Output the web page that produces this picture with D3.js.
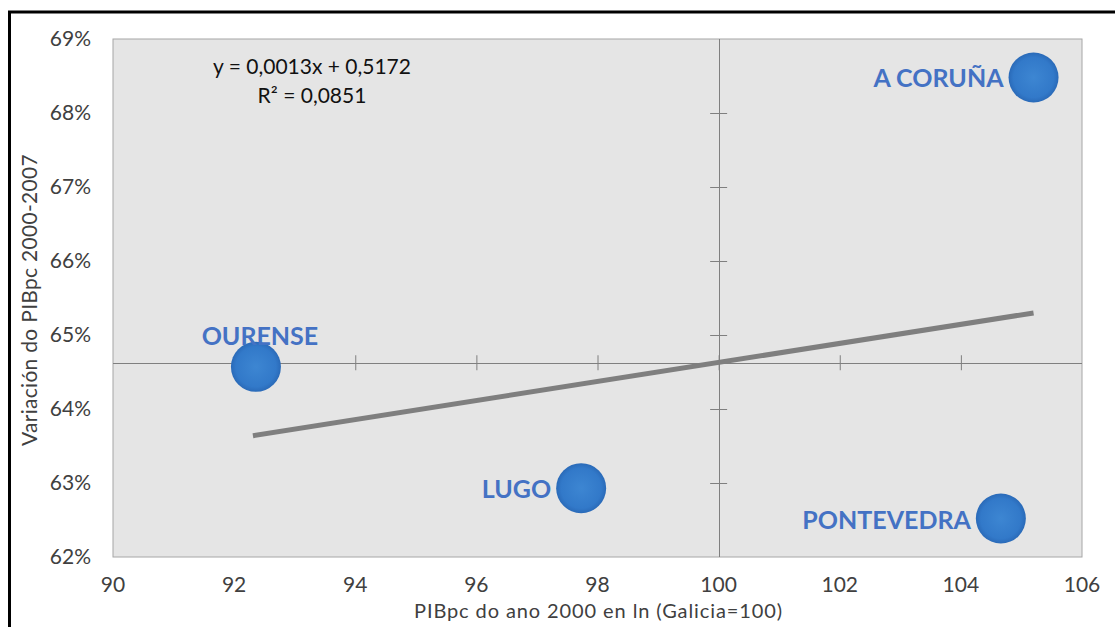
<!DOCTYPE html>
<html>
<head>
<meta charset="utf-8">
<script src="https://cdn.jsdelivr.net/npm/d3@7"></script>
<style>
  body { margin: 0; background: #fff; }
  text { font-family: Lato, "Open Sans", sans-serif; }
</style>
</head>
<body>
<div id="chart"></div>
<script>
// provinces, x = PIBpc 2000 (Galicia=100), y = variation 2000-2007
var provinces = ['OURENSE', 'LUGO', 'PONTEVEDRA', 'A CORUÑA'];
var pib2000 = [92.36, 97.73, 104.66, 105.2];
var variation = [0.6457, 0.6293, 0.6252, 0.6848];
// where each label sits relative to its bubble
var labelSide = ['top', 'left', 'left', 'left'];

var xTicks = [90, 92, 94, 96, 98, 100, 102, 104, 106];
var yTicks = [0.62, 0.63, 0.64, 0.65, 0.66, 0.67, 0.68, 0.69];

var width = 1115,
    height = 627;

var svg = d3.select('#chart').append('svg')
    .attr('width', width)
    .attr('height', height);

// outer frame (cut by the picture on the right and bottom)
svg.append('rect')
    .attr('x', 9.5)
    .attr('y', 12)
    .attr('width', width + 20)
    .attr('height', height + 20)
    .attr('fill', 'none')
    .attr('stroke', '#000')
    .attr('stroke-width', 3);

var x = d3.scaleLinear().domain([90, 106]).range([113, 1082]);
var y = d3.scaleLinear().domain([0.62, 0.69]).range([557, 39]);

// plot area
svg.append('rect')
    .attr('x', x(90))
    .attr('y', y(0.69))
    .attr('width', x(106) - x(90))
    .attr('height', y(0.62) - y(0.69))
    .attr('fill', '#e5e5e5')
    .attr('stroke', '#a6a6a6')
    .attr('stroke-width', 1);

// axes cross at the mean of each series
var crossX = 100;
var crossY = d3.mean(variation);

var xAxis = d3.axisBottom(x).tickValues(xTicks.slice(1, -1)).tickSize(15).tickFormat('');
var yAxis = d3.axisLeft(y).tickValues(yTicks.slice(1, -1)).tickSize(17).tickFormat('');

var gx = svg.append('g')
    .attr('transform', 'translate(0,' + (y(crossY) - 7.5) + ')')
    .call(xAxis);
gx.select('.domain').remove();
gx.selectAll('line').attr('stroke', '#7f7f7f');
svg.append('line')
    .attr('x1', x(90)).attr('x2', x(106))
    .attr('y1', Math.round(y(crossY)) + 0.5).attr('y2', Math.round(y(crossY)) + 0.5)
    .attr('stroke', '#7f7f7f');

var gy = svg.append('g')
    .attr('transform', 'translate(' + (x(crossX) + 8.5) + ',0)')
    .call(yAxis);
gy.select('.domain').remove();
gy.selectAll('line').attr('stroke', '#7f7f7f');
svg.append('line')
    .attr('x1', Math.round(x(crossX)) + 0.5).attr('x2', Math.round(x(crossX)) + 0.5)
    .attr('y1', y(0.69)).attr('y2', y(0.62))
    .attr('stroke', '#7f7f7f');

// tick labels at the low edge
svg.selectAll('.xlab')
    .data(xTicks)
    .enter()
    .append('text')
    .attr('x', function (d) { return x(d); })
    .attr('y', 592)
    .attr('text-anchor', 'middle')
    .attr('font-size', 21)
    .attr('fill', '#404040')
    .text(function (d) { return d; });

svg.selectAll('.ylab')
    .data(yTicks)
    .enter()
    .append('text')
    .attr('x', 91)
    .attr('y', function (d) { return y(d) + 7; })
    .attr('text-anchor', 'end')
    .attr('font-size', 21)
    .attr('fill', '#404040')
    .text(d3.format('.0%'));

svg.append('text')
    .attr('x', x(98) + 1)
    .attr('y', 618)
    .attr('text-anchor', 'middle')
    .attr('font-size', 20)
    .attr('letter-spacing', 0.9)
    .attr('fill', '#404040')
    .text('PIBpc do ano 2000 en ln (Galicia=100)');

svg.append('text')
    .attr('transform', 'translate(37,300) rotate(-90)')
    .attr('text-anchor', 'middle')
    .attr('font-size', 21)
    .attr('letter-spacing', 0.3)
    .attr('fill', '#404040')
    .text('Variación do PIBpc 2000-2007');

// linear trend, least squares over the points
var mx = d3.mean(pib2000), my = d3.mean(variation);
var sxy = d3.sum(pib2000, function (d, i) { return (d - mx) * (variation[i] - my); });
var sxx = d3.sum(pib2000, function (d) { return (d - mx) * (d - mx); });
var slope = sxy / sxx, icpt = my - slope * mx;
var xExt = d3.extent(pib2000);

svg.append('line')
    .attr('x1', x(xExt[0]) - 3).attr('y1', y(slope * (xExt[0]) + icpt))
    .attr('x2', x(xExt[1])).attr('y2', y(slope * xExt[1] + icpt))
    .attr('stroke', '#7f7f7f')
    .attr('stroke-width', 5);

svg.append('text')
    .attr('x', 312).attr('y', 74)
    .attr('text-anchor', 'middle')
    .attr('font-size', 21)
    .attr('fill', '#111')
    .text('y = 0,0013x + 0,5172');
svg.append('text')
    .attr('x', 312).attr('y', 103)
    .attr('text-anchor', 'middle')
    .attr('font-size', 21)
    .attr('fill', '#111')
    .text('R² = 0,0851');

// bubbles
var grad = svg.append('defs').append('radialGradient')
    .attr('id', 'bub')
    .attr('cx', '50%').attr('cy', '50%').attr('r', '50%');
grad.append('stop').attr('offset', '0%').attr('stop-color', '#3d86d2');
grad.append('stop').attr('offset', '80%').attr('stop-color', '#3279c9');
grad.append('stop').attr('offset', '100%').attr('stop-color', '#2a6ab8');

svg.selectAll('circle.bubble')
    .data(provinces)
    .enter()
    .append('circle')
    .attr('class', 'bubble')
    .attr('cx', function (d, i) { return x(pib2000[i]); })
    .attr('cy', function (d, i) { return y(variation[i]); })
    .attr('r', 25)
    .attr('fill', 'url(#bub)');

svg.selectAll('.plab')
    .data(provinces)
    .enter()
    .append('text')
    .attr('x', function (d, i) {
        return labelSide[i] == 'top' ? x(pib2000[i]) + 4 : x(pib2000[i]) - 30;
    })
    .attr('y', function (d, i) {
        return labelSide[i] == 'top' ? y(variation[i]) - 22 : y(variation[i]) + 10;
    })
    .attr('text-anchor', function (d, i) { return labelSide[i] == 'top' ? 'middle' : 'end'; })
    .attr('font-size', 25)
    .attr('font-weight', 'bold')
    .attr('fill', '#4472c4')
    .text(function (d) { return d; });
</script>
</body>
</html>
